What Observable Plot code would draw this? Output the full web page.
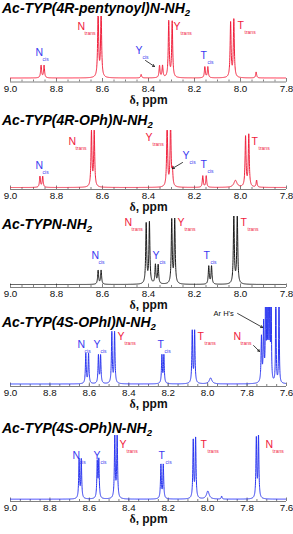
<!DOCTYPE html>
<html><head><meta charset="utf-8">
<script src="https://cdn.jsdelivr.net/npm/d3@7"></script>
<script src="https://cdn.jsdelivr.net/npm/@observablehq/plot@0.6"></script>
<style>
html,body{margin:0;padding:0;background:#fff}
body{width:293px;height:534px;position:relative;overflow:hidden}
.panel{position:absolute;left:0}
.title{position:absolute;left:2px;font:italic bold 14px "Liberation Sans",Arial,sans-serif;line-height:14px;white-space:nowrap;color:#000}
.title span{font-size:9.5px;position:relative;top:3px}
</style></head><body>
<script>
// ---------- data ----------
const titles = ["Ac-TYP(4R-pentynoyl)N-NH", "Ac-TYP(4R-OPh)N-NH", "Ac-TYPN-NH", "Ac-TYP(4S-OPhI)N-NH", "Ac-TYP(4S-OPh)N-NH"];
const titleSub = "2";
const ticksA = [9.0, 8.8, 8.6, 8.4, 8.2, 8.0, 7.8];
const ticksB = [9.0, 8.8, 8.6, 8.4, 8.2, 8.0, 7.8, 7.6];
const axisLabel = "δ, ppm";

// peaks: [ppm, height, halfwidth]
const peaks1 = [[8.867,12.5],[8.854,12.5],[8.619,68],[8.606,68],[8.432,3.5],[8.352,12],[8.339,12],[8.312,56],[8.297,56],[8.155,11],[8.142,11],[8.043,55],[8.029,58],[7.932,6]];
const peaks2 = [[8.872,11],[8.860,11],[8.648,55],[8.636,56],[8.319,64],[8.304,64],[8.296,15],[8.164,11.5],[8.149,11.5],[8.022,7,0.008],[7.978,50],[7.964,52],[7.930,7]];
const peaks3 = [[8.619,14],[8.606,14],[8.410,60],[8.396,61],[8.370,19],[8.358,19],[8.299,64],[8.286,64],[8.138,18],[8.126,18],[8.029,68],[8.014,68]];
const peaks4 = [[8.618,30],[8.604,30],[8.554,28],[8.543,28],[8.486,51],[8.472,51],[8.232,28],[8.222,28],[8.078,52],[8.066,52],[7.985,6,0.008],[7.727,45],[7.716,58],[7.706,120,0.0015],[7.699,120,0.0015],[7.692,120,0.0015],[7.685,120,0.0015],[7.678,120,0.0015],[7.654,120,0.0015],[7.638,120,0.0015]];
const peaks5 = [[8.652,39],[8.641,39],[8.560,36],[8.552,38],[8.471,62],[8.459,65],[8.237,34],[8.225,34],[8.073,58],[8.061,60],[7.999,8,0.008],[7.929,3],[7.753,60],[7.742,62]];

// labels: [letter, subscript, ppm, intensity]
const labels1 = [["N","cis",8.891,25.5],["N","trans",8.709,51.5],["Y","cis",8.457,27.5],["Y","trans",8.291,51.5],["T","cis",8.174,22.5],["T","trans",8.013,52.5]];
const labels2 = [["N","cis",8.891,22],["N","trans",8.748,46],["Y","trans",8.413,50],["Y","cis",8.252,32],["T","cis",8.174,23],["T","trans",7.952,46]];
const labels3 = [["N","cis",8.648,29],["N","trans",8.504,62],["Y","cis",8.383,29],["Y","trans",8.274,62],["T","cis",8.161,29],["T","trans",8.0,62]];
const labels4 = [["N","cis",8.660,39.5],["Y","cis",8.579,39.5],["Y","trans",8.457,47.5],["T","cis",8.254,39.5],["T","trans",8.051,47.5],["N","trans",7.869,47.5]];
const labels5 = [["N","cis",8.685,43.7],["Y","cis",8.579,43.7],["Y","trans",8.447,54.7],["T","cis",8.249,43.7],["T","trans",8.036,54.7],["N","trans",7.706,54.7]];
// arrows: [ppm1, int1, ppm2, int2]
const arrows1 = [[8.413,17.5,8.374,11.5]];
const arrows2 = [[8.252,25,8.296,19]];
const arrows4 = [[7.767,38.5,7.737,32.5],[7.848,70.5,7.721,56.5]];
const notes4 = [["Ar H's",7.970,70.5]];

// ---------- layout ----------
const layout = [
  {svgTop:0,   svgH:112, top:16,  base:77.5,  axis:81.5, dOff:21.5, tb:12.7, end:7.8, ticks:ticksA, color:"#f0203c"},
  {svgTop:126, svgH:94,  top:130, base:187,   axis:189,  dOff:21.5, tb:125,  end:7.8, ticks:ticksA, color:"#f0203c"},
  {svgTop:212, svgH:104, top:216, base:284,   axis:287,  dOff:21.5, tb:229,  end:7.8, ticks:ticksA, color:"#1a1a1a"},
  {svgTop:303, svgH:112, top:307, base:383.5, axis:386,  dOff:21.5, tb:326.7,end:7.6, ticks:ticksB, color:"#2a36f0"},
  {svgTop:431, svgH:103, top:435, base:498.7, axis:501,  dOff:21.5, tb:433,  end:7.6, ticks:ticksB, color:"#2a36f0"}
];
const panels = [
  {peaks:peaks1, labels:labels1, arrows:arrows1, notes:[]},
  {peaks:peaks2, labels:labels2, arrows:arrows2, notes:[]},
  {peaks:peaks3, labels:labels3, arrows:[], notes:[]},
  {peaks:peaks4, labels:labels4, arrows:arrows4, notes:notes4},
  {peaks:peaks5, labels:labels5, arrows:[], notes:[]}
];
const cisColor = "#3a3af0", transColor = "#f0203c";

function spectrum(peaks, lo, hi) {
  const pts = [];
  const step = 0.0004;
  for (let x = hi; x >= lo - 1e-9; x -= step) {
    let y = 0;
    for (const [c, h, g = 0.0025] of peaks) y += h * g * g / ((x - c) ** 2 + g * g);
    pts.push({x, y});
  }
  return pts;
}

panels.forEach((p, i) => {
  const L = layout[i];
  const yMin = -(L.axis - L.base), yMax = L.base - L.top;
  const minor = d3.range(Math.round(L.end * 20), 9.0 * 20 + 0.5).map(k => k / 20);
  const lab = p.labels.map(([letter, sub, x, y]) => ({letter, sub, x, y, kind: sub}));
  const svg = Plot.plot({
    width: 293, height: L.svgH,
    marginLeft: 10, marginRight: 7,
    marginTop: L.top - L.svgTop, marginBottom: L.svgTop + L.svgH - L.axis,
    x: {domain: [9.0, L.end], axis: null},
    y: {domain: [yMin, yMax], axis: null},
    style: {background: "transparent", overflow: "visible", fontFamily: "'Liberation Sans', Arial, sans-serif"},
    marks: [
      Plot.ruleY([yMin], {stroke: "#808080", strokeWidth: 1}),
      Plot.ruleX(minor, {x: d => d, y1: yMin, y2: yMin + 2, stroke: "#808080"}),
      Plot.ruleX(L.ticks, {x: d => d, y1: yMin, y2: yMin + 3.5, stroke: "#808080"}),
      Plot.axisX(L.ticks, {tickSize: 0, tickPadding: 3, tickFormat: d3.format(".1f"), fontSize: 9.8, fill: "#111", label: null}),
      Plot.line(spectrum(p.peaks, L.end, 9.0), {x: "x", y: "y", stroke: L.color, strokeWidth: 1, clip: true}),
      Plot.text(lab, {x: "x", y: "y", text: "letter", textAnchor: "start", fontSize: 10.5, fill: d => d.kind === "cis" ? cisColor : transColor}),
      Plot.text(lab, {x: "x", y: "y", text: "sub", textAnchor: "start", fontSize: 5, dx: 7, dy: 6.5, fill: d => d.kind === "cis" ? cisColor : transColor}),
      Plot.arrow(p.arrows, {x1: d => d[0], y1: d => d[1], x2: d => d[2], y2: d => d[3], stroke: "#111", strokeWidth: 0.8, headLength: 4}),
      Plot.text(p.notes, {x: d => d[1], y: d => d[2], text: d => d[0], textAnchor: "start", fontSize: 7.5, fill: "#111"}),
      Plot.text([axisLabel], {frameAnchor: "bottom", dy: L.dOff, fontSize: 12, fontWeight: "bold", fill: "#111"})
    ]
  });
  // serif delta as in the reference
  svg.querySelectorAll("text").forEach(t => {
    if (t.textContent === axisLabel) {
      t.textContent = "";
      const ns = "http://www.w3.org/2000/svg";
      const a = document.createElementNS(ns, "tspan");
      a.setAttribute("font-family", "'Liberation Serif', 'Times New Roman', serif");
      a.textContent = "δ";
      const b = document.createElementNS(ns, "tspan");
      b.textContent = ", ppm";
      t.appendChild(a); t.appendChild(b);
    }
  });
  const wrap = document.createElement("div");
  wrap.className = "panel";
  wrap.style.top = L.svgTop + "px";
  wrap.appendChild(svg);
  document.body.appendChild(wrap);
});

layout.forEach((L, i) => {
  const t = document.createElement("div");
  t.className = "title";
  t.style.top = (L.tb - 11.8) + "px";
  t.innerHTML = titles[i] + "<span>" + titleSub + "</span>";
  document.body.appendChild(t);
});
</script>
</body></html>
